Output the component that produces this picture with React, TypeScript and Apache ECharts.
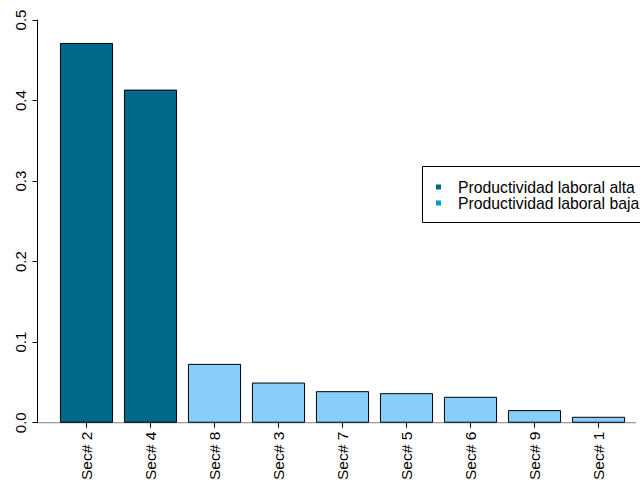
import React, { useEffect, useRef } from "react";
import * as echarts from "echarts";

// Sector shares, sorted from largest to smallest
const categories = ["Sec# 2", "Sec# 4", "Sec# 8", "Sec# 3", "Sec# 7", "Sec# 5", "Sec# 6", "Sec# 9", "Sec# 1"];
const values = [0.4715, 0.4136, 0.0731, 0.0499, 0.0392, 0.0367, 0.0322, 0.0157, 0.0074];
const groups = ["alta", "alta", "baja", "baja", "baja", "baja", "baja", "baja", "baja"];
const seriesNames = ["Productividad laboral alta", "Productividad laboral baja"];
const yTicks = [0, 0.1, 0.2, 0.3, 0.4, 0.5];

const FONT = "Liberation Sans, Arial, Helvetica, sans-serif";
const DARK = "#00688B";
const LIGHT_BAR = "#87CEFA";
const LIGHT_KEY = "#009ACD";

export default function App() {
  const ref = useRef<HTMLDivElement>(null);

  useEffect(() => {
    if (!ref.current) return;
    const chart = echarts.init(ref.current, null, { renderer: "svg" });

    const altaData = values.map((v, i) => (groups[i] === "alta" ? v : "-"));
    const bajaData = values.map((v, i) => (groups[i] === "baja" ? v : "-"));

    chart.setOption({
      animation: false,
      backgroundColor: "#ffffff",
      textStyle: { fontFamily: FONT },
      grid: { left: 54.5, right: 9.5, top: 20, bottom: 59, containLabel: false },
      legend: {
        left: 422,
        top: 167,
        orient: "vertical",
        padding: [12, 0, 12, 14],
        itemGap: 0,
        itemWidth: 5,
        itemHeight: 5,
        icon: "rect",
        borderWidth: 0,
        textStyle: {
          fontFamily: FONT,
          fontSize: 15.75,
          color: "#000000",
          lineHeight: 16,
          padding: [0, 0, 0, 12],
        },
        data: [
          { name: seriesNames[0], itemStyle: { color: DARK, borderWidth: 0 } },
          { name: seriesNames[1], itemStyle: { color: LIGHT_KEY, borderWidth: 0 } },
        ],
      },
      xAxis: {
        type: "category",
        data: categories,
        axisLine: { show: false },
        axisTick: { show: true, alignWithLabel: true, length: 5, lineStyle: { color: "#000000" } },
        axisLabel: {
          rotate: 90,
          margin: 9,
          fontSize: 15.5,
          color: "#000000",
          fontFamily: FONT,
        },
      },
      yAxis: {
        type: "value",
        min: 0,
        max: 0.5,
        interval: 0.1,
        offset: 17,
        axisLine: { show: true, lineStyle: { color: "#000000" } },
        axisTick: { show: true, length: 5, lineStyle: { color: "#000000" } },
        splitLine: { show: false },
        axisLabel: {
          rotate: 90,
          margin: 10,
          fontSize: 15,
          color: "#000000",
          fontFamily: FONT,
          formatter: (v: number) => (yTicks.some((t) => Math.abs(t - v) < 1e-9) ? v.toFixed(1) : ""),
        },
      },
      series: [
        {
          name: seriesNames[0],
          type: "bar",
          data: altaData,
          barGap: "-100%",
          barCategoryGap: "17%",
          itemStyle: { color: DARK, borderColor: "#000000", borderWidth: 1 },
        },
        {
          name: seriesNames[1],
          type: "bar",
          data: bajaData,
          barGap: "-100%",
          barCategoryGap: "17%",
          itemStyle: { color: LIGHT_BAR, borderColor: "#000000", borderWidth: 1 },
        },
      ],
    });

    // Gray baseline at zero, running from the y axis to the right edge of the plot,
    // plus the legend frame, which runs off the right edge of the canvas
    const base = chart.convertToPixel({ gridIndex: 0 }, [0, 0]) as number[];
    const yAxisX = 54.5 - 17;
    chart.setOption({
      graphic: [
        {
          type: "line",
          z: 0,
          silent: true,
          shape: { x1: yAxisX, y1: base[1], x2: 636, y2: base[1] },
          style: { stroke: "#808080", lineWidth: 1 },
        },
        {
          type: "rect",
          z: 0,
          silent: true,
          shape: { x: 422.5, y: 166.5, width: 260, height: 56 },
          style: { fill: "#ffffff", stroke: "#000000", lineWidth: 1 },
        },
      ],
    });

    return () => chart.dispose();
  }, []);

  return (
    <div
      ref={ref}
      style={{ position: "absolute", left: 0, top: 0, width: 640, height: 483 }}
    />
  );
}
